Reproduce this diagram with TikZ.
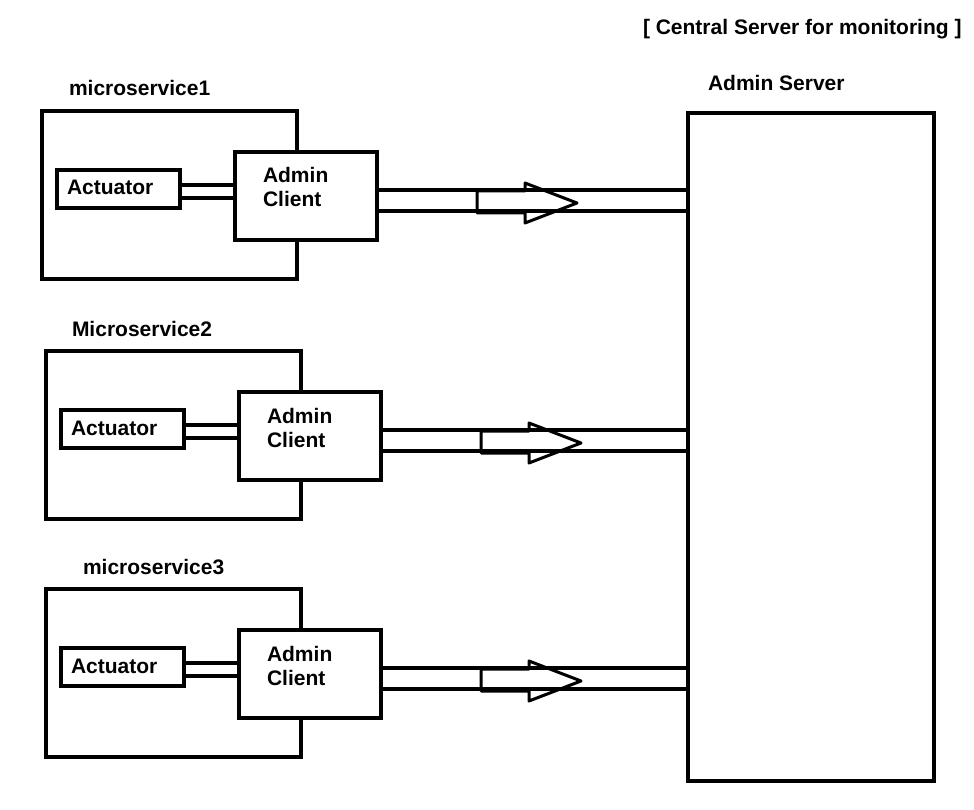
\documentclass[tikz,border=0pt]{standalone}
\usepackage{fontspec}
\setmainfont{Liberation Sans}
\begin{document}
\begin{tikzpicture}[x=1pt,y=-1pt,
  box/.style={draw, line width=4pt, fill=white, rectangle, inner sep=0pt, outer sep=0pt},
  txt/.style={inner sep=0pt, outer sep=0pt, anchor=base west, font=\fontsize{21}{24}\selectfont\bfseries},
  link/.style={line width=3.5pt},
  flow/.style={line width=3pt, line join=round}]
\useasboundingbox (0,0) rectangle (974,810);
% central server
\node[box, minimum width=246pt, minimum height=668pt] (srv) at (811,447) {};
\node[txt] (srvlbl) at (708,91) {Admin Server};
\node[txt] (title) at (643,35) {[ Central Server for monitoring ]};
% microservices
\foreach \i/\lbl/\lx/\dx/\dy in {1/microservice1/69/0/0, 2/Microservice2/68/4/240, 3/microservice3/79/4/478}{
\begin{scope}[shift={(\dx,\dy)}]
  \node[box, minimum width=255pt, minimum height=168pt] (ms\i) at (169.5,195) {};
  \node[txt] (msl\i) at (\lx,96) {\lbl};
  \node[box, minimum width=123pt, minimum height=38pt] (act\i) at (118.5,189) {};
  \node[txt] (actl\i) at (67,195) {Actuator};
  \node[box, minimum width=142pt, minimum height=88pt] (cl\i) at (306,196) {};
  \node[txt] (cla\i) at (263,183) {Admin};
  \node[txt] (clc\i) at (263,207) {Client};
  \coordinate (p\i) at (0,185);
  \coordinate (q\i) at (0,198);
  \coordinate (r\i) at (0,190);
  \coordinate (s\i) at (0,211);
  \draw[link] (act\i.east |- p\i) -- (cl\i.west |- p\i);
  \draw[link] (act\i.east |- q\i) -- (cl\i.west |- q\i);
  \draw[link] (cl\i.east |- r\i) -- (srv.west |- r\i);
  \draw[link] (cl\i.east |- s\i) -- (srv.west |- s\i);
  \draw[flow] (477,191) -- (525,191) -- (525,183) -- (577,203) -- (525,223) -- (525,213) -- (477,213) -- cycle;
\end{scope}
}
\end{tikzpicture}
\end{document}
